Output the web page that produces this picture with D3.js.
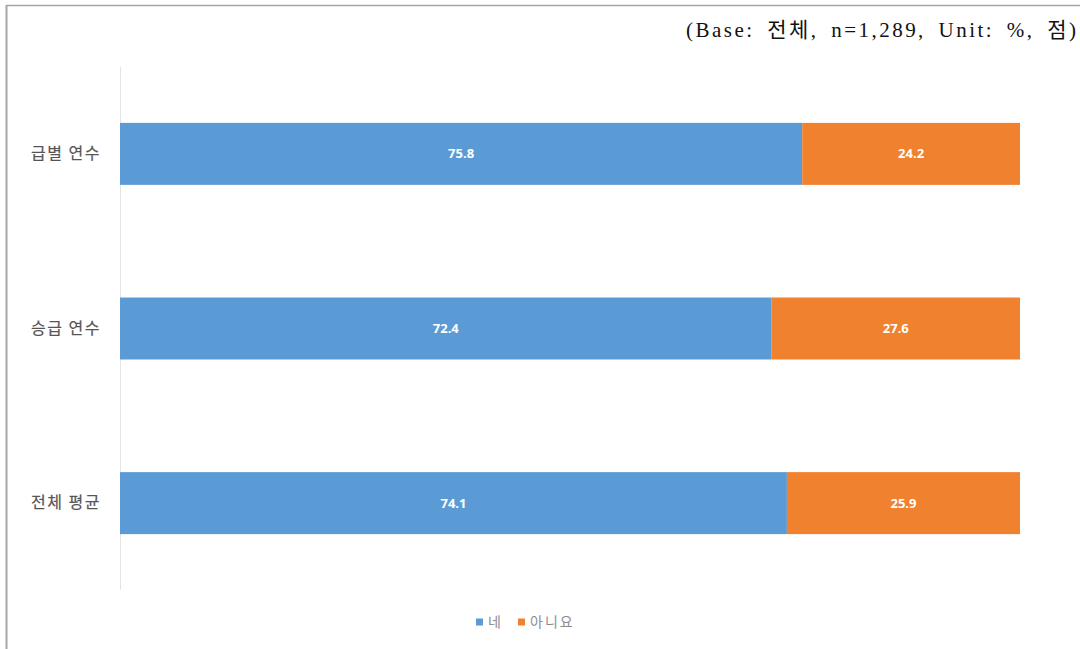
<!DOCTYPE html>
<html>
<head>
<meta charset="utf-8">
<script src="https://cdn.jsdelivr.net/npm/d3@7"></script>
<style>
  body { margin: 0; background: #fff; }
  #canvas { width: 1080px; height: 649px; }
</style>
</head>
<body>
<div id="canvas"></div>
<script>
const categories = ['급별 연수', '승급 연수', '전체 평균'];
const seriesNames = ['네', '아니요'];
const yesValues = [75.8, 72.4, 74.1];
const noValues = [24.2, 27.6, 25.9];
const colors = ['#5B9BD5', '#F0812F'];
const note = '(Base: 전체, n=1,289, Unit: %, 점)';

const width = 1080;
const height = 649;
const margin = { top: 67, left: 120, right: 60, bottom: 59 };

const svg = d3.select('#canvas').append('svg')
    .attr('width', width)
    .attr('height', height);

// frame lines (left and top)
svg.append('line')
    .attr('x1', 6.5).attr('x2', 6.5).attr('y1', 5).attr('y2', height)
    .attr('stroke', '#a6a6a6').attr('stroke-width', 2);
svg.append('line')
    .attr('x1', 6).attr('x2', width).attr('y1', 5.5).attr('y2', 5.5)
    .attr('stroke', '#a6a6a6').attr('stroke-width', 1.5);

svg.append('text')
    .attr('x', 686)
    .attr('y', 37)
    .attr('textLength', 390)
    .attr('lengthAdjust', 'spacing')
    .attr('word-spacing', 5)
    .attr('font-family', '"Liberation Serif", "Noto Sans CJK KR", serif')
    .attr('font-size', 21)
    .attr('fill', '#111')
    .text(note);

const rows = categories.map((c, i) => ({ cat: c, yes: yesValues[i], no: noValues[i] }));
const stacked = d3.stack().keys(['yes', 'no'])(rows);

const xScale = d3.scaleLinear()
    .domain([0, 100])
    .range([margin.left, 1020]);

const yScale = d3.scaleBand()
    .domain(categories)
    .range([margin.top, height - margin.bottom])
    .paddingInner(0.645)
    .paddingOuter(0.32);

// vertical axis line
svg.append('line')
    .attr('x1', margin.left + 0.5).attr('x2', margin.left + 0.5)
    .attr('y1', margin.top).attr('y2', height - margin.bottom)
    .attr('stroke', '#e3e3e3').attr('stroke-width', 1);

const yAxis = svg.append('g')
    .attr('transform', `translate(${margin.left},0)`)
    .call(d3.axisLeft(yScale).tickSize(0).tickPadding(19));
yAxis.select('.domain').remove();
yAxis.selectAll('text')
    .attr('font-family', '"Noto Sans CJK KR", sans-serif')
    .attr('font-size', 16)
    .attr('letter-spacing', 1.5)
    .attr('fill', '#555')
    .attr('stroke', '#555')
    .attr('stroke-width', 0.2);

const layers = svg.append('g').selectAll('g')
    .data(stacked)
    .join('g')
    .attr('fill', (d, i) => colors[i]);

layers.selectAll('rect')
    .data(d => d)
    .join('rect')
    .attr('x', d => xScale(d[0]))
    .attr('y', d => yScale(d.data.cat))
    .attr('width', d => xScale(d[1]) - xScale(d[0]))
    .attr('height', yScale.bandwidth());

layers.selectAll('text')
    .data(d => d)
    .join('text')
    .attr('x', d => (xScale(d[0]) + xScale(d[1])) / 2)
    .attr('y', d => yScale(d.data.cat) + yScale.bandwidth() / 2)
    .attr('dy', '0.35em')
    .attr('text-anchor', 'middle')
    .attr('font-family', '"Noto Sans", sans-serif')
    .attr('font-weight', 'bold')
    .attr('font-size', 13)
    .attr('fill', '#fff')
    .text(d => (d[1] - d[0]).toFixed(1));

// legend
const legend = svg.append('g').attr('transform', 'translate(476,622)');
const legendX = [0, 42];
seriesNames.forEach((name, i) => {
  legend.append('rect')
      .attr('x', legendX[i]).attr('y', -3.5)
      .attr('width', 7).attr('height', 7)
      .attr('fill', colors[i]);
  legend.append('text')
      .attr('x', legendX[i] + 12).attr('y', 0)
      .attr('dy', '0.35em')
      .attr('font-family', '"Noto Sans CJK KR", sans-serif')
      .attr('font-size', 14)
      .attr('letter-spacing', 2)
      .attr('fill', '#8c8c8c')
      .text(name);
});
</script>
</body>
</html>
